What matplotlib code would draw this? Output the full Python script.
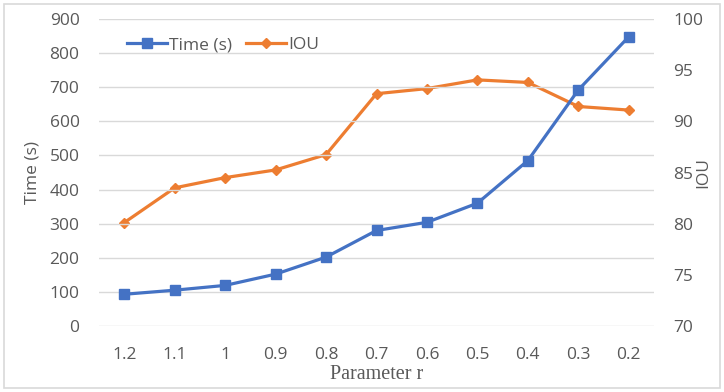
import matplotlib

matplotlib.use("Agg")
import matplotlib.pyplot as plt
from matplotlib.lines import Line2D
from matplotlib.patches import Rectangle

params = ["1.2", "1.1", "1", "0.9", "0.8", "0.7", "0.6", "0.5", "0.4", "0.3", "0.2"]
time_s = [93, 105, 119, 152, 202, 280, 304, 360, 485, 692, 848]
iou = [80.1, 83.5, 84.5, 85.25, 86.75, 92.7, 93.2, 94.05, 93.8, 91.45, 91.1]

BLUE = "#4472C4"
ORANGE = "#ED7D31"
GRID = "#D9D9D9"
TXT = "#595959"

plt.rcParams["font.family"] = ["Open Sans", "DejaVu Sans"]

fig = plt.figure(figsize=(7.24, 3.92), dpi=100)
ax = fig.add_axes([99 / 724, 1 - 326 / 392, 555 / 724, 307 / 392])
ax2 = ax.twinx()

x = list(range(len(params)))
ax.plot(x, time_s, color=BLUE, lw=2.3, marker="s", ms=7, zorder=3)
ax2.plot(x, iou, color=ORANGE, lw=2.3, marker="D", ms=5, zorder=3)

ax.set_xlim(-0.5, len(params) - 0.5)
ax.set_ylim(0, 900)
ax.set_yticks(range(0, 901, 100))
ax2.set_ylim(70, 100)
ax2.set_yticks(range(70, 101, 5))
ax.set_xticks(x)
ax.set_xticklabels(params)

ax.grid(axis="y", color=GRID, lw=1)
ax.set_axisbelow(True)
for a in (ax, ax2):
    for s in a.spines.values():
        s.set_visible(False)
    a.tick_params(length=0, labelsize=12.5, colors=TXT)
ax.tick_params(axis="x", pad=15)
ax.tick_params(axis="y", pad=14)
ax2.tick_params(axis="y", pad=14)
ax.set_zorder(ax2.get_zorder() + 1)
ax.patch.set_visible(False)

# axis titles placed by their centres
ax.set_ylabel("Time (s)", fontsize=12.5, color=TXT, va="center")
ax.yaxis.set_label_coords(-0.119, 0.5)
ax2.set_ylabel("IOU", fontsize=12.5, color=TXT, rotation=90, va="center")
ax2.yaxis.set_label_coords(1.088, 0.5)
ax.set_xlabel("Parameter r", fontsize=14.5, color=TXT, family="Liberation Serif", va="center")
ax.xaxis.set_label_coords(0.5, -0.158)

handles = [
    Line2D([], [], color=BLUE, lw=2.3, marker="s", ms=7),
    Line2D([], [], color=ORANGE, lw=2.3, marker="D", ms=5),
]
leg = ax.legend(handles, ["Time (s)", "IOU"], loc="center left", bbox_to_anchor=(0.05, 0.915),
                ncol=2, frameon=False, fontsize=12.5, handlelength=2.3, handletextpad=0.15,
                columnspacing=0.8, borderaxespad=0, borderpad=0)
for t in leg.get_texts():
    t.set_color(TXT)

fig.patches.append(Rectangle((4 / 724, 4 / 392), 716 / 724, 384 / 392, transform=fig.transFigure,
                             fill=False, edgecolor=GRID, lw=1.2))

fig.savefig("out.png", dpi=100)
